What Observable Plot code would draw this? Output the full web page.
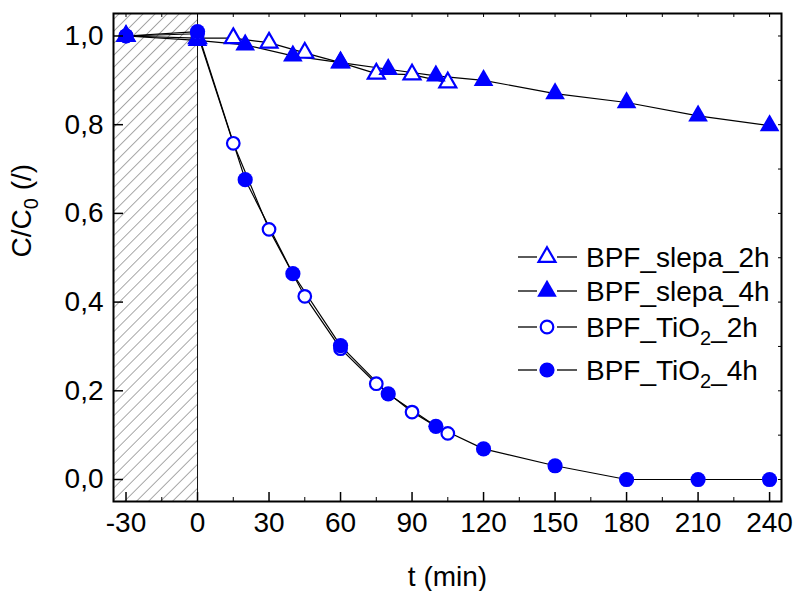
<!DOCTYPE html>
<html><head><meta charset="utf-8">
<script src="https://cdn.jsdelivr.net/npm/d3@7"></script>
<script src="https://cdn.jsdelivr.net/npm/@observablehq/plot@0.6"></script>
<style>body{margin:0;background:#fff;} #chart svg{display:block;}</style>
</head><body><div id="chart"></div>
<script>
// ---- data ----
const times2h = [-30, 0, 15, 30, 45, 60, 75, 90, 105];
const times4h = [-30, 0, 20, 40, 60, 80, 100, 120, 150, 180, 210, 240];
const slepa2h = [1.0, 0.995, 0.995, 0.985, 0.962, 0.94, 0.915, 0.913, 0.895];
const slepa4h = [1.0, 0.99, 0.98, 0.955, 0.94, 0.925, 0.91, 0.90, 0.87, 0.85, 0.82, 0.798];
const tio2_2h = [1.0, 1.005, 0.758, 0.564, 0.413, 0.295, 0.216, 0.152, 0.104];
const tio2_4h = [1.0, 1.01, 0.676, 0.464, 0.302, 0.193, 0.120, 0.069, 0.031, 0.0, 0.0, 0.0];
const seriesNames = ["BPF_slepa_2h", "BPF_slepa_4h", "BPF_TiO2_2h", "BPF_TiO2_4h"];
const xMajorTicks = [-30, 0, 30, 60, 90, 120, 150, 180, 210, 240];
const xMinorTicks = [-15, 15, 45, 75, 105, 135, 165, 195, 225];
const yMajorTicks = [0, 0.2, 0.4, 0.6, 0.8, 1.0];
const yMinorTicks = [0, 0.1, 0.2, 0.3, 0.4, 0.5, 0.6, 0.7, 0.8, 0.9, 1.0];
const darkPeriod = [{x1: -35.25, x2: 0}];
const xLabel = "t (min)";
const yLabel = "C/C0 (/)";

// ---- layout ----
const W = 799, H = 591, mL = 113, mR = 18, mT = 13, mB = 90;
const plotW = W - mL - mR, plotH = H - mT - mB;
const xDomain = [-35.25, 245], yDomain = [-0.0496, 1.0507];
const FONT = "Liberation Sans, Arial, sans-serif";
const BLUE = "#0000ff";

const rows = (name, ts, vs) => ts.map((t, i) => ({series: name, t, v: vs[i]}));
const dS2 = rows(seriesNames[0], times2h, slepa2h);
const dS4 = rows(seriesNames[1], times4h, slepa4h);
const dT2 = rows(seriesNames[2], times2h, tio2_2h);
const dT4 = rows(seriesNames[3], times4h, tio2_4h);
const all = [...dS2, ...dS4, ...dT2, ...dT4];

const fmtY = d => d.toFixed(1).replace(".", ",");

const plot = Plot.plot({
  width: W, height: H,
  marginLeft: mL, marginRight: mR, marginTop: mT, marginBottom: mB,
  style: {fontFamily: FONT, background: "#fff"},
  x: {domain: xDomain, axis: null},
  y: {domain: yDomain, axis: null},
  marks: [
    Plot.rect(darkPeriod, {x1: "x1", x2: "x2", y1: yDomain[0], y2: yDomain[1], fill: "url(#hatch)"}),
    Plot.ruleX([0], {stroke: "#111", strokeWidth: 1}),
    Plot.line(all, {x: "t", y: "v", z: "series", stroke: "black", strokeWidth: 1.2}),
    Plot.dot(dS2, {x: "t", y: "v", symbol: "triangle", r: 6.3, fill: "white", stroke: BLUE, strokeWidth: 2.2}),
    Plot.dot(dS4, {x: "t", y: "v", symbol: "triangle", r: 7.3, fill: BLUE, stroke: "none"}),
    Plot.dot(dT2, {x: "t", y: "v", symbol: "circle", r: 6.3, fill: "white", stroke: BLUE, strokeWidth: 2.2}),
    Plot.dot(dT4, {x: "t", y: "v", symbol: "circle", r: 7.6, fill: BLUE, stroke: "none"}),
    // ticks
    Plot.tickX(xMajorTicks, {x: d => d, insetTop: plotH - 9, stroke: "black", strokeWidth: 1.5}),
    Plot.tickX(xMinorTicks, {x: d => d, insetTop: plotH - 4, stroke: "black", strokeWidth: 1}),
    Plot.tickX([...xMajorTicks, ...xMinorTicks], {x: d => d, insetBottom: plotH - 4, stroke: "black", strokeWidth: 1}),
    Plot.tickY(yMajorTicks, {y: d => d, insetRight: plotW - 10, stroke: "black", strokeWidth: 1.5}),
    Plot.tickY(yMinorTicks, {y: d => d, insetLeft: plotW - 3, stroke: "black", strokeWidth: 1}),
    Plot.frame({stroke: "black", strokeWidth: 2}),
    // tick labels
    Plot.text(xMajorTicks, {x: d => d, y: yDomain[0], dy: 22, text: d => String(d), fontSize: 28, fontFamily: FONT, lineAnchor: "middle", fill: "black"}),
    Plot.text(yMajorTicks, {x: xDomain[0], y: d => d, dx: -10, text: fmtY, fontSize: 28, fontFamily: FONT, textAnchor: "end", lineAnchor: "middle", fill: "black"}),
    // axis titles
    Plot.text([xLabel], {frameAnchor: "bottom", dy: 76, text: d => d, fontSize: 28, fontFamily: FONT, lineAnchor: "middle", fill: "black"}),
    Plot.text([yLabel], {frameAnchor: "left", dx: -91, rotate: -90, text: d => d, fontSize: 28, fontFamily: FONT, lineAnchor: "middle", fill: "black"})
  ]
});

document.getElementById("chart").appendChild(plot);
const svg = d3.select(plot);

// hatch pattern
const defs = svg.insert("defs", ":first-child");
const pat = defs.append("pattern").attr("id", "hatch").attr("patternUnits", "userSpaceOnUse")
  .attr("width", 8.5).attr("height", 8.5).attr("patternTransform", "rotate(45)");
pat.append("rect").attr("width", 8.5).attr("height", 8.5).attr("fill", "white");
pat.append("line").attr("x1", 0).attr("y1", 0).attr("x2", 0).attr("y2", 8.5)
  .attr("stroke", "#6e6e6e").attr("stroke-width", 1.2);

// subscripts
function withSub(el, before, sub, after, subSize, shift) {
  const t = d3.select(el);
  t.text("");
  t.append("tspan").text(before);
  t.append("tspan").attr("dy", shift).attr("font-size", subSize).text(sub);
  t.append("tspan").attr("dy", -shift).text(after);
}
svg.selectAll("text").each(function () {
  if (this.textContent === yLabel) withSub(this, "C/C", "0", " (/)", 20, 7);
});

// legend
const legendRows = [
  {label: seriesNames[0], symbol: d3.symbolTriangle, r: 6.3, filled: false, y: 257},
  {label: seriesNames[1], symbol: d3.symbolTriangle, r: 7.3, filled: true, y: 291},
  {label: seriesNames[2], symbol: null, r: 6.3, filled: false, y: 327},
  {label: seriesNames[3], symbol: null, r: 7.6, filled: true, y: 370}
];
const lg = svg.append("g").attr("font-family", FONT).attr("font-size", 28).attr("text-anchor", "start");
legendRows.forEach(row => {
  const g = lg.append("g");
  g.append("line").attr("x1", 518).attr("x2", 537).attr("y1", row.y).attr("y2", row.y).attr("stroke", "black").attr("stroke-width", 1.3);
  g.append("line").attr("x1", 557).attr("x2", 577).attr("y1", row.y).attr("y2", row.y).attr("stroke", "black").attr("stroke-width", 1.3);
  let sym;
  if (row.symbol) {
    sym = g.append("path").attr("d", d3.symbol(row.symbol, row.r * row.r * Math.PI)()).attr("transform", `translate(547,${row.y})`);
  } else {
    sym = g.append("circle").attr("cx", 547).attr("cy", row.y).attr("r", row.r);
  }
  if (row.filled) sym.attr("fill", BLUE);
  else sym.attr("fill", "white").attr("stroke", BLUE).attr("stroke-width", 2.2);
  const txt = g.append("text").attr("x", 586).attr("y", row.y + 10).attr("fill", "black").attr("text-anchor", "start");
  if (row.label.includes("TiO2")) {
    const parts = row.label.split("TiO2");
    withSub(txt.node(), parts[0] + "TiO", "2", parts[1], 20, 8);
  } else txt.text(row.label);
});
</script>
</body></html>
